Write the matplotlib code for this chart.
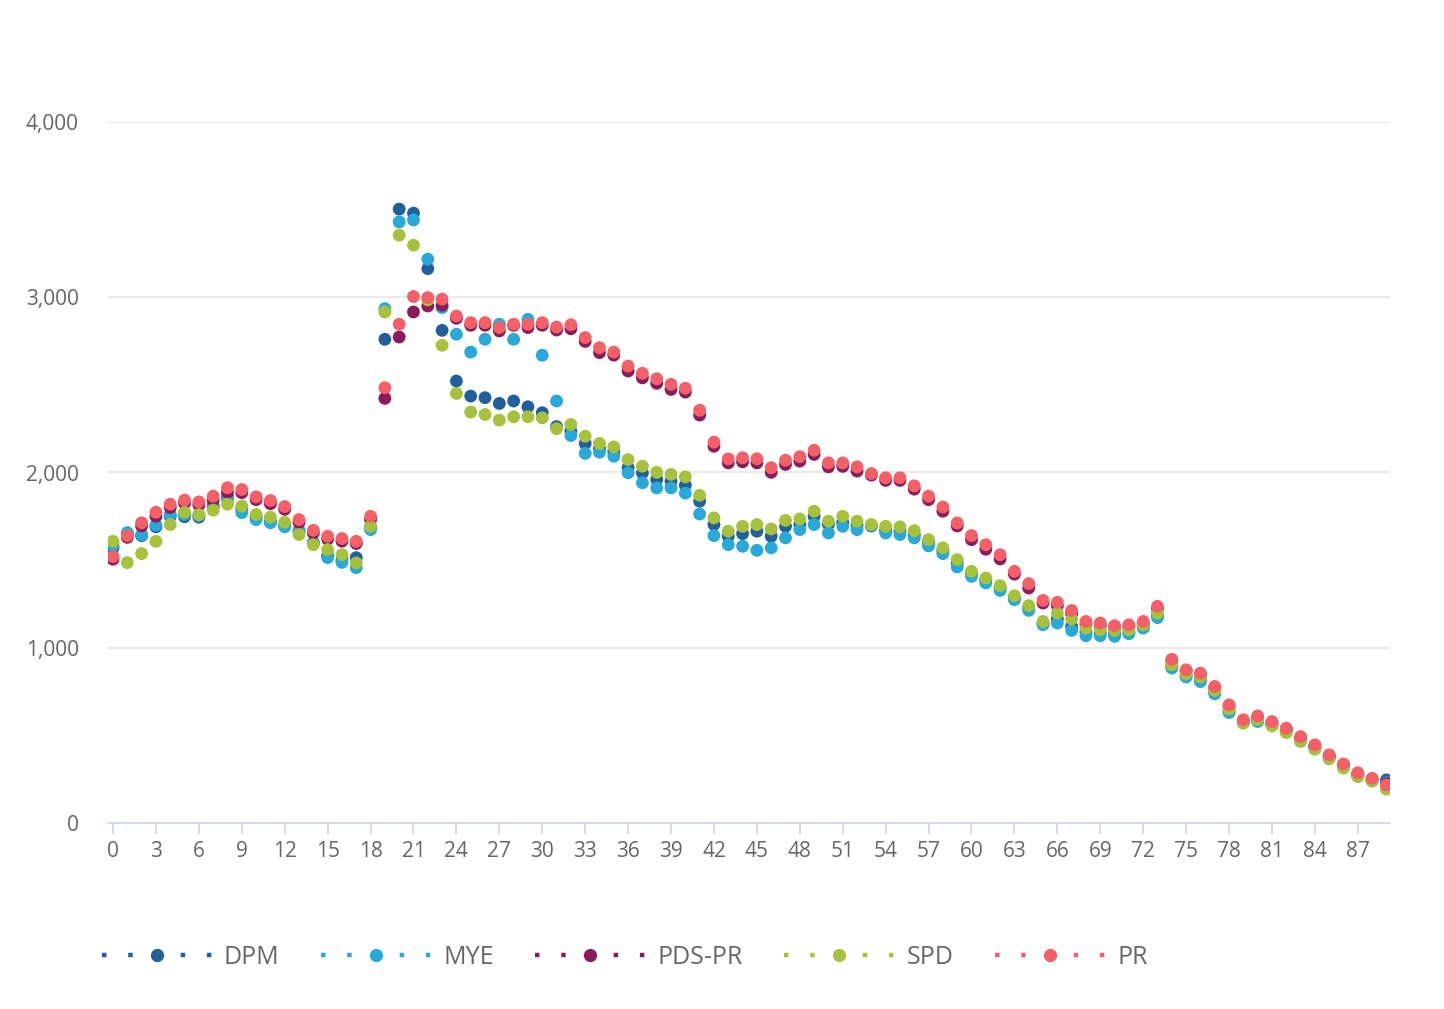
import numpy as np
import matplotlib
matplotlib.use("Agg")
import matplotlib.pyplot as plt
from matplotlib.lines import Line2D
from matplotlib.ticker import FuncFormatter

plt.rcParams['font.family'] = ['Open Sans', 'DejaVu Sans']

ages = list(range(90))

dpm = [1570, 1650, 1640, 1690, 1750, 1748, 1745, 1810, 1860, 1790,
       1745, 1720, 1700, 1665, 1600, 1525, 1500, 1514, 1690, 2760,
       3503, 3480, 3163, 2811, 2522, 2436, 2427, 2394, 2408, 2375,
       2341, 2262, 2236, 2166, 2137, 2120, 2027, 1998, 1960, 1950,
       1928, 1836, 1703, 1636, 1651, 1665, 1636, 1693, 1703, 1750,
       1705, 1715, 1700, 1695, 1670, 1665, 1645, 1600, 1555, 1485,
       1420, 1385, 1340, 1285, 1225, 1140, 1164, 1122, 1090, 1085,
       1080, 1090, 1120, 1180, 895, 842, 820, 747, 640, 578,
       585, 565, 528, 478, 432, 375, 325, 275, 245, 246]

mye = [1583, 1657, 1645, 1700, 1760, 1760, 1755, 1800, 1846, 1771,
       1731, 1713, 1690, 1670, 1595, 1514, 1487, 1457, 1674, 2935,
       3430, 3441, 3217, 2941, 2789, 2687, 2760, 2846, 2760, 2874,
       2669, 2408, 2211, 2109, 2116, 2093, 1998, 1941, 1912, 1912,
       1882, 1763, 1640, 1588, 1579, 1556, 1570, 1627, 1674, 1703,
       1655, 1693, 1674, 1700, 1655, 1646, 1627, 1581, 1537, 1461,
       1407, 1370, 1327, 1274, 1213, 1131, 1141, 1099, 1069, 1069,
       1065, 1080, 1112, 1172, 884, 833, 807, 737, 630, 572,
       579, 558, 520, 468, 423, 370, 318, 268, 240, 230]

pds_pr = [1505, 1630, 1695, 1750, 1800, 1825, 1815, 1842, 1887, 1885,
          1845, 1822, 1790, 1715, 1655, 1620, 1608, 1595, 1731, 2423,
          2773, 2916, 2950, 2954, 2880, 2840, 2840, 2808, 2840, 2827,
          2840, 2813, 2820, 2748, 2684, 2670, 2579, 2540, 2509, 2474,
          2459, 2328, 2150, 2055, 2061, 2055, 2001, 2046, 2065, 2103,
          2032, 2035, 2008, 1985, 1955, 1955, 1905, 1845, 1779, 1695,
          1617, 1562, 1507, 1420, 1341, 1255, 1240, 1195, 1135, 1125,
          1112, 1118, 1138, 1225, 925, 866, 846, 770, 665, 582,
          603, 572, 534, 486, 440, 383, 331, 281, 250, 225]

spd = [1607, 1486, 1537, 1607, 1703, 1773, 1760, 1785, 1819, 1808,
       1760, 1745, 1716, 1646, 1588, 1560, 1531, 1484, 1693, 2916,
       3354, 3297, 2985, 2726, 2451, 2345, 2331, 2299, 2318, 2318,
       2312, 2250, 2274, 2207, 2166, 2146, 2074, 2036, 2001, 1989,
       1975, 1870, 1741, 1665, 1693, 1703, 1678, 1727, 1735, 1779,
       1722, 1750, 1722, 1703, 1693, 1690, 1668, 1617, 1570, 1503,
       1436, 1398, 1354, 1297, 1240, 1150, 1198, 1164, 1112, 1103,
       1099, 1103, 1131, 1198, 903, 851, 833, 756, 650, 570,
       590, 554, 516, 465, 421, 366, 313, 265, 240, 193]

pr = [1520, 1640, 1713, 1773, 1819, 1842, 1832, 1865, 1913, 1903,
      1861, 1840, 1806, 1731, 1670, 1636, 1623, 1607, 1750, 2484,
      2846, 3004, 2998, 2989, 2893, 2855, 2855, 2827, 2846, 2846,
      2855, 2830, 2843, 2770, 2712, 2687, 2607, 2566, 2535, 2503,
      2481, 2355, 2173, 2078, 2084, 2078, 2027, 2070, 2090, 2127,
      2055, 2055, 2032, 1994, 1970, 1970, 1924, 1865, 1803, 1712,
      1640, 1588, 1531, 1436, 1366, 1270, 1259, 1213, 1150, 1141,
      1126, 1131, 1150, 1236, 934, 874, 855, 779, 674, 589,
      611, 579, 541, 493, 446, 389, 337, 287, 255, 217]

series_names = ['DPM', 'MYE', 'PDS-PR', 'SPD', 'PR']
series_data = [dpm, mye, pds_pr, spd, pr]
colors = ['#22609b', '#29a8da', '#8a1c5c', '#a6c13c', '#f45f68']

x_ticks = list(range(0, 88, 3))
y_ticks = [0, 1000, 2000, 3000, 4000]

fig = plt.figure(figsize=(14.44, 10.09), dpi=100)
ax = fig.add_axes([108/1444, 1 - 823/1009, (1390-108)/1444, 701/1009])

for name, vals, c in zip(series_names, series_data, colors):
    ax.scatter(ages, vals, s=85, color=c, edgecolors='none', zorder=3)

ax.set_xlim(-0.35, 89.25)
ax.set_ylim(0, 4000)
ax.set_xticks(x_ticks)
ax.set_yticks(y_ticks)
ax.yaxis.set_major_formatter(FuncFormatter(lambda v, p: '{:,.0f}'.format(v)))
ax.grid(axis='y', color='#e6e6e6', linewidth=1.2)
ax.set_axisbelow(True)

for s in ['top', 'right', 'left']:
    ax.spines[s].set_visible(False)
ax.spines['bottom'].set_color('#ccd6eb')
ax.spines['bottom'].set_linewidth(1.2)

ax.tick_params(axis='y', length=0, pad=21, labelsize=15, labelcolor='#666666')
ax.tick_params(axis='x', length=8, width=1.2, color='#ccd6eb', pad=5,
               labelsize=15, labelcolor='#666666')

handles = [Line2D([0], [0], color=c, linestyle=(0, (1, 4.9)), linewidth=3.2,
                  marker='o', markersize=8.5, dash_capstyle='butt')
           for c in colors]
fig.legend(handles, series_names, loc='center left',
           bbox_to_anchor=(79/1444, 1 - 957/1009), ncol=5, frameon=False,
           fontsize=18, labelcolor='#666666', handlelength=4.4,
           handletextpad=0.5, columnspacing=1.65, numpoints=1)

fig.savefig('out.png', dpi=100, facecolor='white')
